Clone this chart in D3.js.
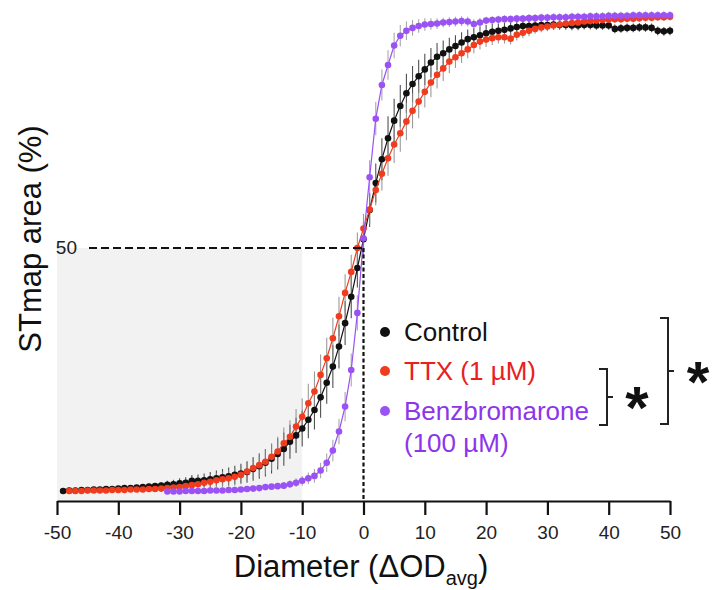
<!DOCTYPE html>
<html>
<head>
<meta charset="utf-8">
<script src="https://cdn.jsdelivr.net/npm/d3@7"></script>
<style>
  html, body { margin: 0; padding: 0; background: #fff; }
  svg { display: block; font-family: "Liberation Sans", Arial, sans-serif; }
</style>
</head>
<body>
<svg id="chart" width="712" height="590"></svg>
<script>
// ---------------- DATA ----------------
const xTicks = [-50, -40, -30, -20, -10, 0, 10, 20, 30, 40, 50];
const yTickLabel = 50;

const seriesNames = ["Control", "TTX (1 \u00b5M)", "Benzbromarone"];

// Control: x from -49 to 50
const controlX0 = -49;
const controlMean = [
  0.2,0.3,0.3,0.4,0.4,0.5,0.5,0.6,0.6,0.7,
  0.8,0.8,0.9,1.0,1.1,1.2,1.3,1.5,1.6,1.8,
  1.9,2.3,2.3,2.4,2.6,2.8,3.0,3.2,3.5,3.8,
  4.1,4.7,5.3,6.0,6.8,7.8,8.8,10.3,11.6,13.0,
  14.8,16.8,19.4,22.4,25.7,29.8,34.6,40.0,45.9,51.8,
  57.8,63.3,68.2,72.5,76.1,79.1,81.7,83.6,85.2,86.6,
  88.0,89.2,89.9,90.7,91.4,92.1,92.8,93.2,93.6,94.0,
  94.3,94.5,94.7,95.0,95.3,95.5,95.5,95.6,95.7,95.7,
  95.8,95.7,95.7,95.6,95.6,95.7,95.7,95.6,95.6,95.6,
  94.9,95.0,95.1,95.1,95.2,95.2,95.1,94.5,94.4,94.5
];
const controlSem = [
  0.2,0.2,0.2,0.2,0.2,0.2,0.2,0.2,0.2,0.2,
  0.4,0.4,0.5,0.5,0.6,0.6,0.7,0.8,0.9,1.0,
  1.1,1.2,1.3,1.4,1.5,1.6,1.7,1.8,1.9,2.0,
  2.2,2.4,2.6,2.8,3.0,3.2,3.4,3.5,3.6,3.7,
  3.8,4.0,4.2,4.3,4.4,4.5,4.5,4.4,4.0,3.5,
  3.5,4.0,4.3,4.5,4.5,4.3,4.0,3.7,3.4,3.2,
  3.0,2.8,2.6,2.4,2.2,2.1,2.0,1.9,1.8,1.7,
  1.6,1.5,1.5,1.4,1.4,1.3,1.3,1.2,1.2,1.1,
  1.1,1.0,1.0,1.0,1.0,0.9,0.9,0.9,0.9,0.9,
  0.9,0.9,0.9,0.9,0.9,0.9,0.9,0.9,0.9,0.9
];

// TTX: x from -48 to 50
const ttxX0 = -48;
const ttxMean = [
  0.2,0.2,0.2,0.3,0.3,0.3,0.3,0.4,0.4,
  0.4,0.5,0.5,0.5,0.6,0.6,0.7,0.8,0.9,1.0,
  1.2,1.4,1.6,1.9,2.1,2.4,2.6,2.8,3.1,3.5,
  4.2,4.9,5.5,6.2,7.2,8.3,10.0,11.3,13.4,15.4,
  18.2,20.6,24.0,27.4,31.5,36.0,40.8,45.1,50.0,54.0,
  57.9,61.9,65.2,68.4,71.2,73.5,75.9,78.1,80.0,82.0,
  83.9,85.5,86.8,88.2,89.1,89.9,90.7,91.6,92.3,92.7,
  93.0,93.2,93.2,92.9,93.7,94.1,94.5,94.9,95.2,95.4,
  95.6,95.8,96.0,96.1,96.2,96.4,96.5,96.6,96.7,96.8,
  96.9,96.9,97.0,97.0,97.1,97.2,97.2,97.3,97.3,97.4
];
const ttxSem = [
  0.2,0.2,0.2,0.2,0.2,0.2,0.2,0.2,0.2,
  0.3,0.3,0.4,0.4,0.5,0.5,0.6,0.7,0.8,0.9,
  1.0,1.1,1.2,1.3,1.4,1.5,1.6,1.7,1.8,1.9,
  2.0,2.2,2.4,2.6,2.8,3.0,3.2,3.4,3.6,3.8,
  4.0,4.1,4.2,4.2,4.2,4.0,3.8,3.5,3.2,3.0,
  3.0,3.2,3.4,3.6,3.8,3.8,3.8,3.6,3.4,3.2,
  3.0,2.8,2.6,2.4,2.2,2.0,1.8,1.7,1.6,1.5,
  1.4,1.3,1.3,1.2,1.2,1.1,1.1,1.0,1.0,1.0,
  0.9,0.9,0.9,0.9,0.9,0.9,0.9,0.9,0.9,0.9,
  0.8,0.8,0.8,0.8,0.8,0.8,0.8,0.8,0.8,0.8
];

// Benzbromarone: x from -32 to 50
const benzX0 = -32;
const benzMean = [
  0.1,0.1,0.1,0.2,0.2,0.2,0.2,0.3,0.3,0.3,0.4,0.4,
  0.5,0.6,0.7,0.8,1.0,1.1,1.2,1.3,1.6,1.9,
  2.3,2.8,3.3,4.4,6.0,8.5,12.4,17.5,25.0,36.7,
  52.0,64.5,76.5,83.4,87.5,91.5,93.5,94.5,95.1,95.5,
  95.8,95.9,96.0,96.2,96.3,96.4,96.5,96.4,95.9,96.2,
  96.6,96.7,96.8,96.9,96.9,97.0,97.0,97.1,97.1,97.2,
  97.2,97.3,97.3,97.3,97.4,97.4,97.4,97.5,97.5,97.5,
  97.6,97.6,97.6,97.6,97.7,97.7,97.7,97.7,97.7,97.7,
  97.7
];
const benzSem = [
  0.2,0.2,0.2,0.2,0.2,0.2,0.2,0.2,0.2,0.2,0.2,0.2,
  0.3,0.3,0.4,0.4,0.5,0.5,0.6,0.7,0.8,0.9,
  1.0,1.2,1.4,1.6,1.9,2.2,2.6,3.0,3.4,3.6,
  3.5,3.5,3.4,3.2,3.0,2.6,2.2,1.9,1.6,1.4,
  1.3,1.2,1.1,1.0,1.0,1.0,1.0,1.0,1.0,1.0,
  0.8,0.8,0.8,0.8,0.8,0.8,0.8,0.8,0.8,0.8,
  0.8,0.8,0.8,0.8,0.8,0.8,0.8,0.8,0.8,0.8,
  0.8,0.8,0.8,0.8,0.8,0.8,0.8,0.8,0.8,0.8,
  0.8
];

// ---------------- DRAW ----------------
const svg = d3.select("#chart");
const x = d3.scaleLinear().domain([-50, 50]).range([57, 670]);
const y = d3.scaleLinear().domain([0, 100]).range([492, 4]);
const axisY = 501;

function build(x0, mean, sem) {
  return mean.map((m, i) => ({ x: x0 + i, m: m, s: sem[i] }));
}
const series = [
  { name: seriesNames[0], data: build(controlX0, controlMean, controlSem), color: "#111111", bar: "#333333" },
  { name: seriesNames[1], data: build(ttxX0, ttxMean, ttxSem), color: "#f03c1e", bar: "#8a8a8a" },
  { name: seriesNames[2], data: build(benzX0, benzMean, benzSem), color: "#9a52f5", bar: "#9a9a9a" }
];

// grey shaded region (-50..-10, 0..50%)
svg.append("rect")
  .attr("x", x(-50)).attr("y", y(50))
  .attr("width", x(-10) - x(-50)).attr("height", axisY - y(50))
  .attr("fill", "#f2f2f2");

// error bars
series.forEach(s => {
  svg.append("g").selectAll("line").data(s.data).join("line")
    .attr("x1", d => x(d.x)).attr("x2", d => x(d.x))
    .attr("y1", d => y(d.m - d.s)).attr("y2", d => y(d.m + d.s))
    .attr("stroke", s.bar).attr("stroke-width", 1.1).attr("opacity", 0.85);
});

// lines and dots
const line = d3.line().x(d => x(d.x)).y(d => y(d.m));
series.forEach(s => {
  svg.append("path").datum(s.data)
    .attr("d", line).attr("fill", "none")
    .attr("stroke", s.color).attr("stroke-width", 1.2);
  svg.append("g").selectAll("circle").data(s.data).join("circle")
    .attr("cx", d => x(d.x)).attr("cy", d => y(d.m)).attr("r", 3.3)
    .attr("fill", s.color);
});

// dashed reference lines
svg.append("line")
  .attr("x1", 89).attr("x2", x(0)).attr("y1", y(yTickLabel)).attr("y2", y(yTickLabel))
  .attr("stroke", "#111").attr("stroke-width", 2.2).attr("stroke-dasharray", "8,4");
svg.append("line")
  .attr("x1", x(0)).attr("x2", x(0)).attr("y1", y(yTickLabel)).attr("y2", axisY)
  .attr("stroke", "#111").attr("stroke-width", 2.2).attr("stroke-dasharray", "4,2.5");

// 50 label
svg.append("text").attr("x", 77).attr("y", y(yTickLabel) + 6)
  .attr("text-anchor", "end").attr("font-size", 19).attr("fill", "#222")
  .text(yTickLabel);

// x axis
const xAxis = d3.axisBottom(x).tickValues(xTicks).tickSize(14).tickSizeOuter(0)
  .tickPadding(11).tickFormat(d => String(d));
const gx = svg.append("g").attr("transform", `translate(0,${axisY})`).call(xAxis);
gx.select(".domain").attr("stroke", "#111").attr("stroke-width", 2.2);
gx.selectAll(".tick line").attr("stroke", "#111").attr("stroke-width", 2.2);
gx.selectAll(".tick text").attr("font-size", 19).attr("fill", "#222")
  .attr("font-family", "'Liberation Sans', Arial, sans-serif");

// axis titles
const xt = svg.append("text").attr("x", 361).attr("y", 577)
  .attr("text-anchor", "middle").attr("font-size", 31).attr("fill", "#111");
xt.append("tspan").text("Diameter (\u0394OD");
xt.append("tspan").attr("font-size", 20).attr("dy", 8).text("avg");
xt.append("tspan").attr("dy", -8).text(")");

svg.append("text").attr("transform", "translate(41,239) rotate(-90)")
  .attr("text-anchor", "middle").attr("font-size", 31).attr("fill", "#111")
  .text("STmap area (%)");

// legend
const legendY = [332, 371, 411];
const legendText = ["#111111", "#e8201e", "#8c35ea"];
series.forEach((s, i) => {
  svg.append("circle").attr("cx", 385).attr("cy", legendY[i]).attr("r", 5).attr("fill", s.color);
  svg.append("text").attr("x", 404).attr("y", legendY[i] + 9)
    .attr("font-size", 26).attr("fill", legendText[i]).text(s.name);
});
svg.append("text").attr("x", 404).attr("y", 452)
  .attr("font-size", 26).attr("fill", legendText[2]).text("(100 \u00b5M)");

// significance brackets
function bracket(xv, y1, y2, stub, tick) {
  const p = `M${xv - stub},${y1} H${xv} V${y2} H${xv - stub} M${xv},${(y1 + y2) / 2} H${xv + tick}`;
  svg.append("path").attr("d", p).attr("fill", "none").attr("stroke", "#222").attr("stroke-width", 2);
}
bracket(607, 369, 425, 8, 6);
bracket(668, 318, 424, 8, 6);
svg.append("text").attr("x", 637).attr("y", 428).attr("text-anchor", "middle")
  .attr("font-size", 60).attr("font-weight", "bold").attr("fill", "#111").text("*");
svg.append("text").attr("x", 698).attr("y", 402).attr("text-anchor", "middle")
  .attr("font-size", 58).attr("font-weight", "bold").attr("fill", "#111").text("*");
</script>
</body>
</html>
